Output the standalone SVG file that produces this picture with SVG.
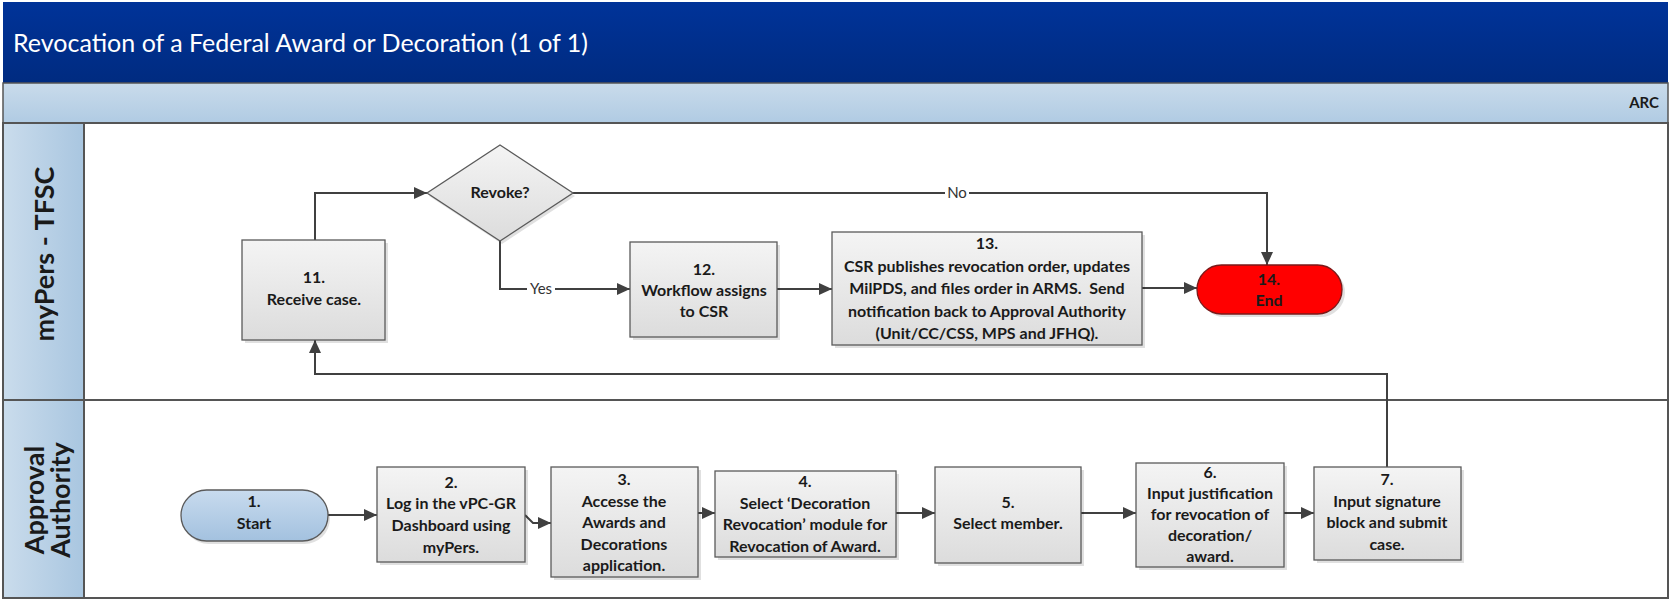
<svg xmlns="http://www.w3.org/2000/svg" width="1674" height="604" viewBox="0 0 1674 604">
<defs>
  <linearGradient id="gTitle" x1="0" y1="0" x2="0" y2="1">
    <stop offset="0" stop-color="#003399"/>
    <stop offset="1" stop-color="#002b80"/>
  </linearGradient>
  <linearGradient id="gBand" x1="0" y1="0" x2="0" y2="1">
    <stop offset="0" stop-color="#c9dbeb"/>
    <stop offset="1" stop-color="#b0cbe3"/>
  </linearGradient>
  <linearGradient id="gLane" x1="0" y1="0" x2="1" y2="0">
    <stop offset="0" stop-color="#cadcec"/>
    <stop offset="1" stop-color="#a9c6e0"/>
  </linearGradient>
  <linearGradient id="gBox" x1="0" y1="0" x2="0" y2="1">
    <stop offset="0" stop-color="#f4f4f4"/>
    <stop offset="1" stop-color="#dcdcdc"/>
  </linearGradient>
  <linearGradient id="gStart" x1="0" y1="0" x2="0" y2="1">
    <stop offset="0" stop-color="#c8dbee"/>
    <stop offset="1" stop-color="#a3c1df"/>
  </linearGradient>
  <marker id="arr" markerUnits="userSpaceOnUse" markerWidth="14" markerHeight="12" refX="13" refY="6" orient="auto">
    <path d="M0,0 L13,6 L0,12 z" fill="#404040"/>
  </marker>
</defs>
<style>
  .lanecol { fill:url(#gLane); stroke:#555; stroke-width:2 }
  .box { fill:url(#gBox); stroke:#5a5a5a; stroke-width:1.3 }
  .shadow { fill:#000; opacity:0.12 }
  .t { font-family:Lato, "Liberation Sans", sans-serif; font-weight:bold; font-size:16px; fill:#1a1a1a; text-anchor:middle }
  .lane { font-family:Lato, "Liberation Sans", sans-serif; font-weight:bold; font-size:27px; fill:#1a1a1a; text-anchor:middle }
  .lbl { font-family:Lato, "Liberation Sans", sans-serif; font-size:15px; fill:#333; text-anchor:middle }
  .conn { fill:none; stroke:#404040; stroke-width:2; marker-end:url(#arr) }
</style>

<g id="background">
  <rect x="3" y="2" width="1665" height="81" fill="url(#gTitle)"/>
  <text x="13" y="52" font-family="Lato, 'Liberation Sans', sans-serif" font-size="25" fill="#ffffff">Revocation of a Federal Award or Decoration (1 of 1)</text>
  <rect x="3" y="83" width="1665" height="40" fill="url(#gBand)" stroke="#555" stroke-width="1.5"/>
  <text x="1659" y="108" font-family="Lato, 'Liberation Sans', sans-serif" font-weight="bold" font-size="15" fill="#1a1a1a" text-anchor="end">ARC</text>
</g>

<g id="lane-mypers">
  <rect x="3" y="123" width="1665" height="277" fill="#fff" stroke="#555" stroke-width="2"/>
  <rect x="3" y="123" width="81" height="277" class="lanecol"/>
  <text class="lane" transform="translate(54,254) rotate(-90)">myPers - TFSC</text>
</g>

<g id="lane-approval">
  <rect x="3" y="400" width="1665" height="198" fill="#fff" stroke="#555" stroke-width="2"/>
  <rect x="3" y="400" width="81" height="198" class="lanecol"/>
  <text class="lane" transform="translate(44,500) rotate(-90)">Approval</text>
  <text class="lane" transform="translate(70,500) rotate(-90)">Authority</text>
</g>

<g id="connectors">
  <path class="conn" d="M328,515 L377,515"/>
  <path class="conn" d="M525,515 L533,523 L551,523"/>
  <path class="conn" d="M698,513 L715,513"/>
  <path class="conn" d="M896,513 L935,513"/>
  <path class="conn" d="M1081,513 L1136,513"/>
  <path class="conn" d="M1284,513 L1314,513"/>
  <path class="conn" d="M1387,467 L1387,374 L315,374 L315,340"/>
  <path class="conn" d="M315,240 L315,193 L427,193"/>
  <path class="conn" d="M500,241 L500,289 L630,289"/>
  <rect x="527" y="280" width="28" height="18" fill="#fff"/>
  <text class="lbl" x="541" y="294">Yes</text>
  <path class="conn" d="M573,193 L1267,193 L1267,265"/>
  <rect x="945" y="184" width="24" height="18" fill="#fff"/>
  <text class="lbl" x="957" y="198">No</text>
  <path class="conn" d="M777,289 L832,289"/>
  <path class="conn" d="M1142,288 L1197,288"/>
</g>

<g id="node-1">
  <rect x="183" y="493" width="147" height="51" rx="25.5" class="shadow"/>
  <rect x="181" y="490" width="147" height="51" rx="25.5" fill="url(#gStart)" stroke="#5a5a5a" stroke-width="1.3"/>
  <text class="t" x="254" y="507">1.</text>
  <text class="t" x="254" y="529">Start</text>
</g>

<g id="node-2">
  <rect x="380" y="470" width="148" height="95" class="shadow"/>
  <rect x="377" y="467" width="148" height="95" class="box"/>
  <text class="t" x="451" y="488">2.</text>
  <text class="t" x="451" y="509">Log in the vPC-GR</text>
  <text class="t" x="451" y="531">Dashboard using</text>
  <text class="t" x="451" y="553">myPers.</text>
</g>

<g id="node-3">
  <rect x="554" y="470" width="147" height="110" class="shadow"/>
  <rect x="551" y="467" width="147" height="110" class="box"/>
  <text class="t" x="624" y="485">3.</text>
  <text class="t" x="624" y="507">Accesse the</text>
  <text class="t" x="624" y="528">Awards and</text>
  <text class="t" x="624" y="550">Decorations</text>
  <text class="t" x="624" y="571">application.</text>
</g>

<g id="node-4">
  <rect x="718" y="474" width="181" height="86" class="shadow"/>
  <rect x="715" y="471" width="181" height="86" class="box"/>
  <text class="t" x="805" y="487">4.</text>
  <text class="t" x="805" y="509">Select ‘Decoration</text>
  <text class="t" x="805" y="530">Revocation’ module for</text>
  <text class="t" x="805" y="552">Revocation of Award.</text>
</g>

<g id="node-5">
  <rect x="938" y="470" width="146" height="96" class="shadow"/>
  <rect x="935" y="467" width="146" height="96" class="box"/>
  <text class="t" x="1008" y="508">5.</text>
  <text class="t" x="1008" y="529">Select member.</text>
</g>

<g id="node-6">
  <rect x="1139" y="466" width="148" height="104" class="shadow"/>
  <rect x="1136" y="463" width="148" height="104" class="box"/>
  <text class="t" x="1210" y="478">6.</text>
  <text class="t" x="1210" y="499">Input justification</text>
  <text class="t" x="1210" y="520">for revocation of</text>
  <text class="t" x="1210" y="541">decoration/</text>
  <text class="t" x="1210" y="562">award.</text>
</g>

<g id="node-7">
  <rect x="1317" y="470" width="147" height="93" class="shadow"/>
  <rect x="1314" y="467" width="147" height="93" class="box"/>
  <text class="t" x="1387" y="485">7.</text>
  <text class="t" x="1387" y="507">Input signature</text>
  <text class="t" x="1387" y="528">block and submit</text>
  <text class="t" x="1387" y="550">case.</text>
</g>

<g id="node-11">
  <rect x="245" y="243" width="143" height="100" class="shadow"/>
  <rect x="242" y="240" width="143" height="100" class="box"/>
  <text class="t" x="314" y="283">11.</text>
  <text class="t" x="314" y="305">Receive case.</text>
</g>

<g id="node-revoke">
  <polygon points="502,148 575,196 502,244 429,196" class="shadow"/>
  <polygon points="500,145 573,193 500,241 427,193" class="box"/>
  <text class="t" x="500" y="198">Revoke?</text>
</g>

<g id="node-12">
  <rect x="633" y="245" width="147" height="95" class="shadow"/>
  <rect x="630" y="242" width="147" height="95" class="box"/>
  <text class="t" x="704" y="275">12.</text>
  <text class="t" x="704" y="296">Workflow assigns</text>
  <text class="t" x="704" y="317">to CSR</text>
</g>

<g id="node-13">
  <rect x="835" y="235" width="310" height="113" class="shadow"/>
  <rect x="832" y="232" width="310" height="113" class="box"/>
  <text class="t" x="987" y="249">13.</text>
  <text class="t" x="987" y="272">CSR publishes revocation order, updates</text>
  <text class="t" x="987" y="294">MilPDS, and files order in ARMS.&#160; Send</text>
  <text class="t" x="987" y="317">notification back to Approval Authority</text>
  <text class="t" x="987" y="339">(Unit/CC/CSS, MPS and JFHQ).</text>
</g>

<g id="node-14">
  <rect x="1200" y="268" width="145" height="49" rx="24.5" class="shadow"/>
  <rect x="1197" y="265" width="145" height="49" rx="24.5" fill="#ff0000" stroke="#7a1a1a" stroke-width="1.3"/>
  <text class="t" x="1269" y="285">14.</text>
  <text class="t" x="1269" y="306">End</text>
</g>
</svg>
